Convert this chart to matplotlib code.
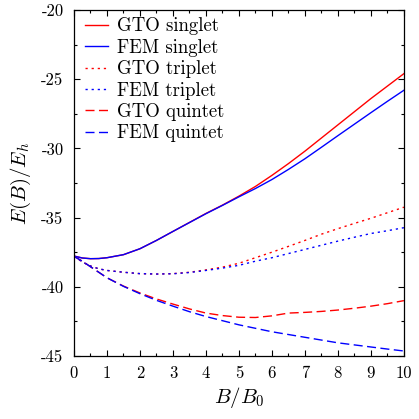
import numpy as np
import matplotlib
matplotlib.use("Agg")
import matplotlib.pyplot as plt
from matplotlib.ticker import MultipleLocator, FuncFormatter

plt.rcParams['font.family'] = 'serif'
plt.rcParams['font.serif'] = ['cmr10']
plt.rcParams['mathtext.fontset'] = 'cm'
plt.rcParams['axes.unicode_minus'] = False

B = [0, 0.25, 0.5, 0.75, 1, 1.5, 2, 2.5, 3, 3.5, 4, 4.5, 5, 5.5, 6, 6.5,
     7, 7.5, 8, 8.5, 9, 9.5, 10]

gto_singlet = [-37.78, -37.92, -37.97, -37.96, -37.9, -37.68, -37.25, -36.65,
               -36.0, -35.35, -34.7, -34.1, -33.45, -32.75, -31.95, -31.1,
               -30.2, -29.25, -28.3, -27.35, -26.4, -25.5, -24.6]
fem_singlet = [-37.78, -37.92, -37.97, -37.96, -37.9, -37.68, -37.25, -36.65,
               -36.0, -35.36, -34.72, -34.12, -33.5, -32.9, -32.25, -31.52,
               -30.75, -29.92, -29.08, -28.25, -27.42, -26.6, -25.8]
gto_triplet = [-37.8, -38.2, -38.5, -38.7, -38.82, -38.95, -39.05, -39.08,
               -39.05, -38.95, -38.78, -38.58, -38.3, -37.9, -37.5, -37.08,
               -36.65, -36.2, -35.8, -35.42, -35.05, -34.65, -34.25]
fem_triplet = [-37.8, -38.2, -38.5, -38.7, -38.82, -38.95, -39.05, -39.08,
               -39.06, -38.97, -38.82, -38.65, -38.45, -38.15, -37.9, -37.6,
               -37.3, -37.0, -36.7, -36.42, -36.15, -35.95, -35.73]
gto_quintet = [-37.8, -38.15, -38.55, -38.95, -39.35, -39.95, -40.45, -40.88,
               -41.25, -41.6, -41.9, -42.08, -42.2, -42.22, -42.1, -41.9,
               -41.85, -41.78, -41.68, -41.55, -41.4, -41.22, -41.0]
fem_quintet = [-37.8, -38.15, -38.55, -38.95, -39.35, -39.97, -40.5, -40.98,
               -41.4, -41.8, -42.15, -42.45, -42.75, -43.0, -43.25, -43.45,
               -43.65, -43.85, -44.05, -44.2, -44.35, -44.5, -44.64]

fig = plt.figure(figsize=(4.19, 4.19), dpi=100)
ax = fig.add_axes([0.1766, 0.1504, 0.7874, 0.8258])

lw = 1.0
dot = (0, (1.6, 2.8))
dash = (0, (6.5, 3.2))
ax.plot(B, gto_singlet, color='#ff0000', lw=lw, label='GTO singlet')
ax.plot(B, fem_singlet, color='#0000ff', lw=lw, label='FEM singlet')
ax.plot(B, gto_triplet, color='#ff0000', lw=lw, ls=dot, label='GTO triplet')
ax.plot(B, fem_triplet, color='#0000ff', lw=lw, ls=dot, label='FEM triplet')
ax.plot(B, gto_quintet, color='#ff0000', lw=lw, ls=dash, label='GTO quintet')
ax.plot(B, fem_quintet, color='#0000ff', lw=lw, ls=dash, label='FEM quintet')

ax.set_xlim(0, 10)
ax.set_ylim(-45, -20)
ax.xaxis.set_major_locator(MultipleLocator(1))
ax.xaxis.set_minor_locator(MultipleLocator(0.5))
ax.yaxis.set_major_locator(MultipleLocator(5))
ax.yaxis.set_minor_locator(MultipleLocator(2.5))
fmt = FuncFormatter(lambda v, p: '%d' % round(v))
ax.xaxis.set_major_formatter(fmt)
ax.yaxis.set_major_formatter(fmt)
ax.tick_params(which='both', direction='in', top=True, right=True,
               labelsize=12, width=0.8)
ax.tick_params(which='major', length=4.5)
ax.tick_params(which='minor', length=2.3)
ax.tick_params(axis='x', pad=7)
ax.tick_params(axis='y', pad=7.5)
for s in ax.spines.values():
    s.set_linewidth(0.9)

ax.set_xlabel(r'$B/B_0$', fontsize=15, labelpad=3)
ax.set_ylabel(r'$E(B)/E_h$', fontsize=15, labelpad=6)

ax.legend(loc='upper left', bbox_to_anchor=(0.012, 1.0), frameon=False,
          fontsize=13.5, handlelength=1.2, handletextpad=0.5,
          labelspacing=0.18, borderaxespad=0.0)

fig.savefig('out.png', dpi=100)
